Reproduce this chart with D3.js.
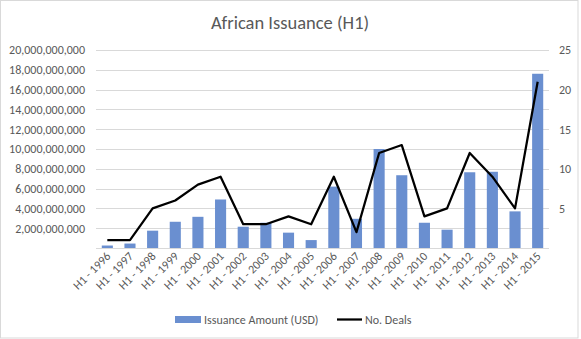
<!DOCTYPE html>
<html><head><meta charset="utf-8">
<script src="https://cdn.jsdelivr.net/npm/d3@7"></script>
<style>html,body{margin:0;padding:0;background:#fff;}svg{display:block;}</style>
</head><body>
<svg id="c" width="581" height="339"></svg>
<script>
const categories = ["H1 - 1996","H1 - 1997","H1 - 1998","H1 - 1999","H1 - 2000","H1 - 2001","H1 - 2002","H1 - 2003","H1 - 2004","H1 - 2005","H1 - 2006","H1 - 2007","H1 - 2008","H1 - 2009","H1 - 2010","H1 - 2011","H1 - 2012","H1 - 2013","H1 - 2014","H1 - 2015"];
const issuance = [250000000,450000000,1750000000,2650000000,3150000000,4900000000,2150000000,2550000000,1550000000,800000000,6200000000,2950000000,10000000000,7350000000,2550000000,1850000000,7650000000,7700000000,3700000000,17600000000];
const deals = [1,1,5,6,8,9,3,3,4,3,9,2,12,13,4,5,12,9,5,21];
const leftTicks = [2000000000,4000000000,6000000000,8000000000,10000000000,12000000000,14000000000,16000000000,18000000000,20000000000];
const rightTicks = [5,10,15,20,25];

const font = "Carlito, Calibri, 'Open Sans', sans-serif";
const svg = d3.select("#c");
svg.append("rect").attr("x",0.5).attr("y",0.5).attr("width",577.5).attr("height",337.5)
  .attr("fill","#fff").attr("stroke","#d9d9d9");

const L=96, R=549, T=50, B=248;
const x = d3.scaleBand().domain(categories).range([L,R]).paddingInner(0.51).paddingOuter(0.255);
const yL = d3.scaleLinear().domain([0,20000000000]).range([B,T]);
const yR = d3.scaleLinear().domain([0,25]).range([B,T]);

// gridlines
svg.append("g").selectAll("line").data(leftTicks).join("line")
  .attr("x1",L).attr("x2",R).attr("y1",d=>Math.round(yL(d))+0.5).attr("y2",d=>Math.round(yL(d))+0.5)
  .attr("stroke","#d9d9d9").attr("stroke-width",1);

// bars
svg.append("g").selectAll("rect").data(issuance).join("rect")
  .attr("x",(d,i)=>x(categories[i])).attr("width",x.bandwidth())
  .attr("y",d=>yL(d)).attr("height",d=>B-yL(d)).attr("fill","#6a8fd0");

// baseline
svg.append("line").attr("x1",L).attr("x2",R).attr("y1",B+0.5).attr("y2",B+0.5).attr("stroke","#d9d9d9");

// line
const line = d3.line().x((d,i)=>x(categories[i])+x.bandwidth()/2).y(d=>yR(d));
svg.append("path").datum(deals).attr("d",line).attr("fill","none").attr("stroke","#000")
  .attr("stroke-width",2.25).attr("stroke-linejoin","round");

// left axis
const fmt = d3.format(",");
const la = d3.axisLeft(yL).tickValues(leftTicks).tickFormat(fmt).tickSize(0).tickPadding(0);
const gL = svg.append("g").attr("transform",`translate(85,0)`).call(la);
gL.select(".domain").remove();
gL.selectAll("text").attr("font-family",font).attr("font-size",12).attr("fill","#595959");

// right axis
const ra = d3.axisRight(yR).tickValues(rightTicks).tickSize(0).tickPadding(0);
const gR = svg.append("g").attr("transform",`translate(559,0)`).call(ra);
gR.select(".domain").remove();
gR.selectAll("text").attr("font-family",font).attr("font-size",12).attr("fill","#595959");

// x axis
const xa = d3.axisBottom(x).tickSize(0).tickPadding(0);
const gX = svg.append("g").attr("transform",`translate(0,${B})`).call(xa);
gX.select(".domain").remove();
gX.selectAll("text").attr("font-family",font).attr("font-size",12).attr("fill","#595959")
  .attr("text-anchor","end").attr("dy",0).attr("y",0)
  .attr("transform","translate(4,9) rotate(-45)");

// title
svg.append("text").attr("x",290).attr("y",29).attr("text-anchor","middle")
  .attr("font-family",font).attr("font-size",18.5).attr("fill","#595959").text("African Issuance (H1)");

// legend
const lg = svg.append("g");
lg.append("rect").attr("x",175).attr("y",316).attr("width",26).attr("height",7).attr("fill","#6a8fd0");
lg.append("text").attr("x",204).attr("y",323.5).attr("font-family",font).attr("font-size",12).attr("fill","#595959").text("Issuance Amount (USD)");
lg.append("line").attr("x1",337).attr("x2",362).attr("y1",319.5).attr("y2",319.5).attr("stroke","#000").attr("stroke-width",2.25);
lg.append("text").attr("x",365).attr("y",323.5).attr("font-family",font).attr("font-size",12).attr("fill","#595959").text("No. Deals");
</script>
</body></html>
